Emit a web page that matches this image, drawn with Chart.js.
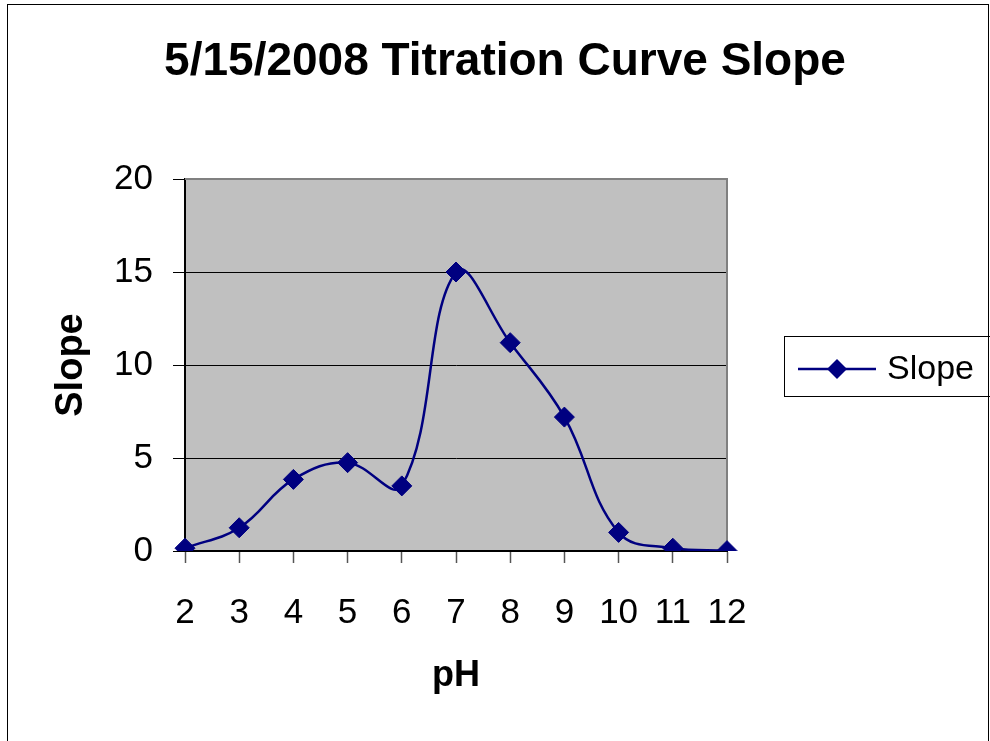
<!DOCTYPE html>
<html>
<head>
<meta charset="utf-8">
<title>5/15/2008 Titration Curve Slope</title>
<script src="https://cdn.jsdelivr.net/npm/chart.js@4.4.1/dist/chart.umd.min.js"></script>
<style>
    html, body { margin: 0; padding: 0; background: #ffffff; }
    #wrap { width: 990px; height: 741px; position: relative; }
</style>
</head>
<body>
<div id="wrap"><canvas id="chart"></canvas></div>
<script>
// values
const phLabels = ['2', '3', '4', '5', '6', '7', '8', '9', '10', '11', '12'];
const slopeValues = [0.15, 1.25, 3.85, 4.75, 3.5, 15.0, 11.2, 7.2, 1.0, 0.15, 0.02];
const yTicks = [0, 5, 10, 15, 20];

const chartTitle = '5/15/2008 Titration Curve Slope';
const seriesName = 'Slope';
const lineColor = '#000080';
const fontFamily = '"Liberation Sans", Arial, sans-serif';

// background, outer frame, title and legend
const decorPlugin = {
    id: 'decor',
    beforeDraw(chart) {
        const ctx = chart.ctx;
        const area = chart.chartArea;
        ctx.save();
        ctx.fillStyle = '#ffffff';
        ctx.fillRect(0, 0, chart.width, chart.height);
        ctx.strokeStyle = '#000000';
        ctx.lineWidth = 1;
        ctx.strokeRect(7.5, 4.5, 981, 800);
        ctx.fillStyle = '#c0c0c0';
        ctx.fillRect(area.left, area.top, area.right - area.left, area.bottom - area.top);
        ctx.restore();
    },
    beforeDatasetsDraw(chart) {
        const ctx = chart.ctx;
        const area = chart.chartArea;
        ctx.save();
        ctx.strokeStyle = '#808080';
        ctx.lineWidth = 2;
        ctx.beginPath();
        ctx.moveTo(area.left, area.top);
        ctx.lineTo(area.right, area.top);
        ctx.lineTo(area.right, area.bottom);
        ctx.stroke();
        ctx.restore();
    },
    afterDraw(chart) {
        const ctx = chart.ctx;
        ctx.save();
        // title
        ctx.fillStyle = '#000000';
        ctx.font = 'bold 46px ' + fontFamily;
        ctx.textAlign = 'center';
        ctx.textBaseline = 'alphabetic';
        ctx.fillText(chartTitle, 505, 75);

        // legend
        ctx.strokeStyle = '#000000';
        ctx.lineWidth = 1;
        ctx.strokeRect(784.5, 336.5, 300, 60);
        ctx.strokeStyle = lineColor;
        ctx.lineWidth = 2.5;
        ctx.beginPath();
        ctx.moveTo(798, 369);
        ctx.lineTo(876, 369);
        ctx.stroke();
        ctx.fillStyle = lineColor;
        ctx.beginPath();
        ctx.moveTo(837, 359); ctx.lineTo(847, 369); ctx.lineTo(837, 379); ctx.lineTo(827, 369);
        ctx.closePath();
        ctx.fill();
        ctx.fillStyle = '#000000';
        ctx.font = '34px ' + fontFamily;
        ctx.textAlign = 'left';
        ctx.fillText(seriesName, 887, 379);
        ctx.restore();
    }
};

const ctx = document.getElementById('chart').getContext('2d');
new Chart(ctx, {
    type: 'line',
    data: {
        labels: phLabels,
        datasets: [{
            label: seriesName,
            data: slopeValues,
            borderColor: lineColor,
            backgroundColor: lineColor,
            borderWidth: 2.5,
            tension: 0.4,
            pointStyle: 'rectRot',
            pointRadius: 10,
            pointBorderWidth: 1,
            pointBackgroundColor: lineColor,
            pointBorderColor: lineColor,
            fill: false
        }]
    },
    options: {
        responsive: true,
        maintainAspectRatio: false,
        animation: false,
        layout: { padding: { top: 179, right: 263, bottom: 0, left: 0 } },
        plugins: {
            legend: { display: false },
            title: { display: false },
            tooltip: { enabled: false }
        },
        scales: {
            x: {
                type: 'category',
                offset: false,
                afterFit: (scale) => { scale.height = 190; },
                grid: {
                    drawOnChartArea: false,
                    drawTicks: true,
                    tickLength: 12,
                    tickColor: '#555555',
                    tickWidth: 1.5
                },
                border: { display: true, color: '#000000', width: 2 },
                ticks: {
                    color: '#000000',
                    padding: 29,
                    maxRotation: 0,
                    autoSkip: false,
                    font: { family: fontFamily, size: 35 }
                },
                title: {
                    display: true,
                    text: 'pH',
                    color: '#000000',
                    padding: { top: 0, bottom: 43 },
                    font: { family: fontFamily, size: 36, weight: 'bold' }
                }
            },
            y: {
                min: 0,
                max: 20,
                afterFit: (scale) => { scale.width = 185; },
                afterBuildTicks: (scale) => {
                    scale.ticks = yTicks.map(v => ({ value: v }));
                },
                grid: {
                    color: (c) => c.tick && c.tick.value === 20 ? '#808080' : '#000000',
                    lineWidth: 1,
                    tickLength: 12,
                    tickColor: '#000000'
                },
                border: { display: true, color: '#000000', width: 2 },
                ticks: {
                    color: '#000000',
                    padding: 20,
                    font: { family: fontFamily, size: 35 }
                },
                title: {
                    display: true,
                    text: 'Slope',
                    color: '#000000',
                    padding: { top: 49, bottom: 0 },
                    font: { family: fontFamily, size: 38, weight: 'bold' }
                }
            }
        }
    },
    plugins: [decorPlugin]
});
</script>
</body>
</html>
